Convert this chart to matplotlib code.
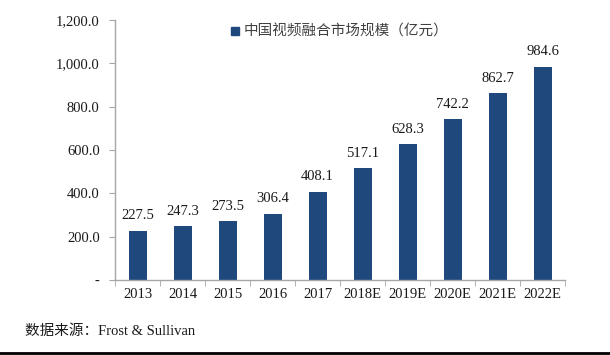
import matplotlib
matplotlib.use('Agg')
import matplotlib.pyplot as plt
from matplotlib.lines import Line2D

# Data
years = ['2013', '2014', '2015', '2016', '2017', '2018E', '2019E', '2020E', '2021E', '2022E']
market_size = [227.5, 247.3, 273.5, 306.4, 408.1, 517.1, 628.3, 742.2, 862.7, 984.6]
y_ticks = [0, 200, 400, 600, 800, 1000, 1200]
y_tick_labels = ['-', '200.0', '400.0', '600.0', '800.0', '1,000.0', '1,200.0']
legend_label = '中国视频融合市场规模（亿元）'
source_text = '数据来源：Frost & Sullivan'

bar_color = '#1F497D'
axis_color = '#A6A6A6'
text_color = '#1a1a1a'
serif = ['Liberation Serif', 'Noto Sans CJK SC']
cjk = ['Noto Sans CJK SC', 'DejaVu Sans']

fig = plt.figure(figsize=(6.1, 3.55), dpi=100)
ax = fig.add_axes([115 / 610, 1 - 280 / 355, 450 / 610, 260 / 355])

x = range(len(years))
ax.bar(x, market_size, width=0.4, color=bar_color, zorder=2)

# data labels
for xi, v in zip(x, market_size):
    ax.text(xi, v + 38, f'{v:.1f}', ha='center', va='bottom',
            family=serif, fontsize=10.5, color=text_color)

ax.set_xlim(-0.5, len(years) - 0.5)
ax.set_ylim(0, 1200)
ax.set_yticks(y_ticks)
ax.set_yticklabels(y_tick_labels, family=serif, fontsize=10.5, color=text_color)
ax.set_xticks(list(x))
ax.set_xticklabels(years, family=serif, fontsize=10.5, color=text_color)

# category boundary ticks on x axis
ax.set_xticks([i - 0.5 for i in range(len(years) + 1)], minor=True)
ax.tick_params(axis='x', which='major', length=0, pad=6)
ax.tick_params(axis='x', which='minor', length=4, color=axis_color, direction='out')
ax.tick_params(axis='y', length=4, color=axis_color, direction='out', pad=7)

for side in ['top', 'right']:
    ax.spines[side].set_visible(False)
for side in ['left', 'bottom']:
    ax.spines[side].set_color(axis_color)
    ax.spines[side].set_linewidth(1.0)

# legend
handle = Line2D([], [], marker='s', linestyle='none', markersize=6,
                markerfacecolor=bar_color, markeredgecolor=bar_color)
leg = fig.legend([handle], [legend_label], loc='center left',
                 bbox_to_anchor=(220 / 610, 1 - 32 / 355), frameon=False,
                 handletextpad=0.1, borderpad=0, handlelength=1.0,
                 prop={'family': cjk, 'size': 10.5})
for t in leg.get_texts():
    t.set_color('#404040')

# source
fig.text(25 / 610, 1 - 331 / 355, source_text, family=serif,
         fontsize=10.5, va='center', ha='left', color=text_color)

# bottom rule
fig.add_artist(Line2D([0, 1], [1 - 353 / 355, 1 - 353 / 355], color='black', linewidth=2))

plt.savefig('out.png', dpi=100)
plt.close()
